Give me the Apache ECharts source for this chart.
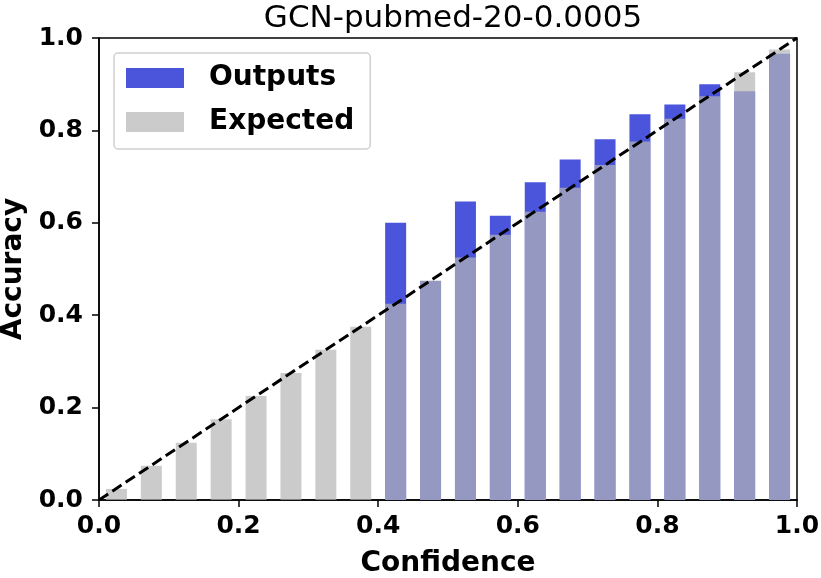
<!DOCTYPE html>
<html>
<head>
<meta charset="utf-8">
<script src="https://cdn.jsdelivr.net/npm/echarts@6/dist/echarts.min.js"></script>
<style>html,body{margin:0;padding:0;background:#fff;}#c{width:821px;height:578px;}</style>
</head>
<body>
<div id="c"></div>
<script>
var titleText = "GCN-pubmed-20-0.0005";
var binCenters = [0.025,0.075,0.125,0.175,0.225,0.275,0.325,0.375,0.425,0.475,0.525,0.575,0.625,0.675,0.725,0.775,0.825,0.875,0.925,0.975];
var expectedValues = [0.024,0.074,0.124,0.175,0.225,0.275,0.325,0.375,0.425,0.475,0.525,0.574,0.624,0.676,0.725,0.776,0.825,0.874,0.926,0.975];
var outputBins = [0.425,0.475,0.525,0.575,0.625,0.675,0.725,0.775,0.825,0.875,0.925,0.975];
var outputValues = [0.600,0.474,0.646,0.615,0.688,0.737,0.781,0.835,0.856,0.900,0.885,0.966];
var tickValues = [0,0.2,0.4,0.6,0.8,1.0];
var diagonal = [[0,0],[1,1]];

var FONT = "DejaVu Sans";
function pairs(xs, ys){ return xs.map(function(x,i){ return [x, ys[i]]; }); }

var chart = echarts.init(document.getElementById('c'), null, {renderer:'canvas'});
var axisCommon = {
  type:'value', min:0, max:1, interval:0.2,
  axisLine:{show:true, onZero:false, lineStyle:{color:'#000', width:1.5}},
  axisTick:{show:true, inside:false, length:7, lineStyle:{color:'#000', width:1.5}},
  splitLine:{show:false},
  axisLabel:{color:'#000', fontFamily:FONT, fontWeight:'bold', fontSize:25,
    formatter:function(v){ return v.toFixed(1); }},
  nameTextStyle:{color:'#000', fontFamily:FONT, fontWeight:'bold', fontSize:28}
};
chart.setOption({
  animation:false,
  backgroundColor:'#fff',
  title:{text:titleText, left:448, textAlign:'center', top:-2,
    textStyle:{fontFamily:FONT, fontWeight:'normal', fontSize:31, color:'#000'}},
  grid:{left:99, right:24, top:38, bottom:78, containLabel:false, outerBoundsMode:'none',
    show:true, borderColor:'#000', borderWidth:1.5, backgroundColor:'transparent'},
  legend:{orient:'vertical', left:114, top:53, padding:[11,16,13,12],
    itemWidth:58, itemHeight:20, itemGap:16, icon:'rect',
    borderColor:'#d0d0d0', borderWidth:1.5, borderRadius:4, backgroundColor:'rgba(255,255,255,0.8)',
    textStyle:{fontFamily:FONT, fontWeight:'bold', fontSize:28, color:'#000', lineHeight:20, padding:[0,0,0,20]},
    data:['Outputs','Expected']},
  xAxis:Object.assign({}, axisCommon, {name:'Confidence', nameLocation:'middle', nameGap:50,
    axisLabel:Object.assign({}, axisCommon.axisLabel, {margin:14})}),
  yAxis:Object.assign({}, axisCommon, {name:'Accuracy', nameLocation:'middle', nameGap:66,
    axisLabel:Object.assign({}, axisCommon.axisLabel, {margin:16})}),
  series:[
    {name:'Outputs', type:'bar', data:pairs(outputBins, outputValues), barWidth:21, barGap:'-100%',
      itemStyle:{color:'rgb(75,85,219)'}, z:2},
    {name:'Expected', type:'bar', data:pairs(binCenters, expectedValues), barWidth:21, barGap:'-100%',
      itemStyle:{color:'rgba(181,181,181,0.7)'}, z:3},
    {name:'diag', type:'line', data:diagonal, symbol:'none', silent:true,
      lineStyle:{color:'#000', width:3, type:[11,5]}, z:5}
  ]
});
</script>
</body>
</html>
